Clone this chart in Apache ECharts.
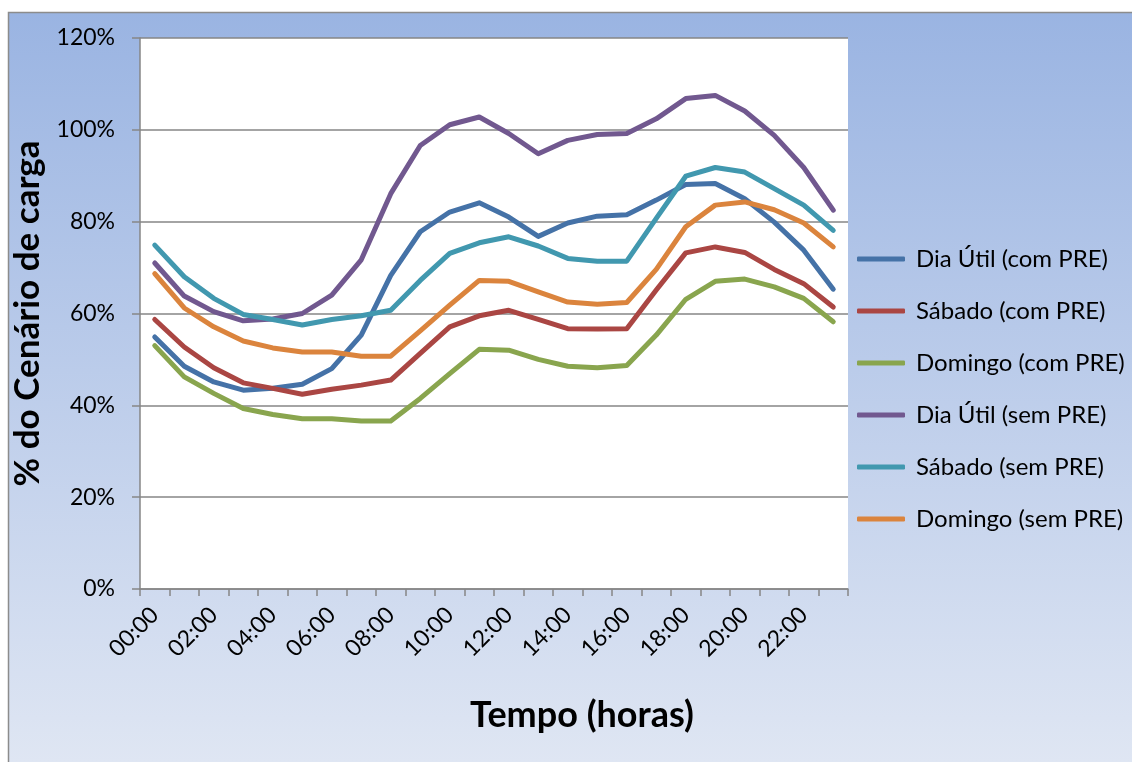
<!DOCTYPE html>
<html>
<head>
<meta charset="utf-8">
<script src="https://cdn.jsdelivr.net/npm/echarts@6/dist/echarts.min.js"></script>
<style>
html,body{margin:0;padding:0;background:#fff;}
#c{width:1132px;height:762px;}
</style>
</head>
<body>
<div id="c"></div>
<script>
var hours = ['00:00','01:00','02:00','03:00','04:00','05:00','06:00','07:00','08:00','09:00','10:00','11:00',
             '12:00','13:00','14:00','15:00','16:00','17:00','18:00','19:00','20:00','21:00','22:00','23:00'];
var seriesNames = ['Dia Útil (com PRE)','Sábado (com PRE)','Domingo (com PRE)','Dia Útil (sem PRE)','Sábado (sem PRE)','Domingo (sem PRE)'];
var diaUtilCom = [54.9,48.5,45.1,43.3,43.7,44.6,48.0,55.3,68.3,77.8,82.1,84.1,81.0,76.8,79.7,81.2,81.5,84.7,88.1,88.3,85.0,79.9,73.8,65.3];
var sabadoCom  = [58.7,52.7,48.2,44.9,43.7,42.4,43.5,44.4,45.5,51.3,57.1,59.5,60.7,58.7,56.7,56.6,56.7,65.1,73.2,74.5,73.3,69.6,66.5,61.4];
var domingoCom = [53.0,46.2,42.6,39.3,38.0,37.1,37.1,36.6,36.6,41.5,46.9,52.2,52.0,50.0,48.5,48.2,48.7,55.3,63.1,67.0,67.5,65.8,63.3,58.2];
var diaUtilSem = [71.0,63.8,60.4,58.4,58.8,60.0,64.0,71.7,86.1,96.6,101.1,102.8,99.2,94.8,97.7,99.0,99.2,102.4,106.8,107.5,104.1,98.8,91.8,82.5];
var sabadoSem  = [74.9,68.0,63.3,59.8,58.7,57.5,58.7,59.5,60.7,67.2,73.1,75.4,76.7,74.7,72.0,71.4,71.4,80.7,89.9,91.8,90.8,87.2,83.6,78.1];
var domingoSem = [68.7,61.2,57.1,54.0,52.5,51.6,51.6,50.7,50.7,56.2,61.8,67.2,67.0,64.7,62.5,62.0,62.4,69.6,78.9,83.6,84.3,82.6,79.7,74.5];
var yTicks = [0,20,40,60,80,100,120];
var colors = ['#4572A7','#AA4643','#89A54E','#71588F','#4198AF','#DB843D'];
var allData = [diaUtilCom, sabadoCom, domingoCom, diaUtilSem, sabadoSem, domingoSem];

var chart = echarts.init(document.getElementById('c'), null, {renderer:'canvas'});
var font = 'Lato, "Noto Sans", sans-serif';
var series = seriesNames.map(function(n,i){
  return {
    name:n, type:'line', data:allData[i], symbol:'none', showSymbol:false,
    lineStyle:{color:colors[i], width:5, cap:'round', join:'round'},
    itemStyle:{color:colors[i]}, animation:false
  };
});
chart.setOption({
  animation:false,
  color:colors,
  graphic:[{
    type:'rect', z:-10, silent:true,
    shape:{x:8.5,y:12.5,width:1200,height:800},
    style:{
      fill:new echarts.graphic.LinearGradient(0,12,0,762,[{offset:0,color:'#9AB4E2'},{offset:1,color:'#DFE6F3'}],true),
      stroke:'#8C8C8C', lineWidth:1.5
    }
  }],
  grid:{left:140, top:38, right:284, bottom:173, show:true, backgroundColor:'#ffffff', borderWidth:0},
  legend:{
    orient:'vertical', left:857, top:247, padding:0, itemWidth:48, itemHeight:5, itemGap:28, icon:'roundRect',
    textStyle:{fontFamily:font, fontSize:24, color:'#000', lineHeight:24, padding:[0,0,0,6]},
    data:seriesNames.map(function(n,i){return {name:n, itemStyle:{color:colors[i]}};})
  },
  xAxis:{
    type:'category', data:hours, boundaryGap:true,
    name:'Tempo (horas)', nameLocation:'middle', nameGap:108,
    nameTextStyle:{fontFamily:font, fontSize:36, fontWeight:'bold', color:'#000', padding:[0,0,0,176]},
    axisLine:{show:true, lineStyle:{color:'#868686', width:1.5}},
    axisTick:{show:true, interval:0, alignWithLabel:false, length:7, inside:false, lineStyle:{color:'#868686', width:1.5}},
    axisLabel:{interval:1, rotate:45, margin:22, fontFamily:font, fontSize:23, color:'#000'},
    splitLine:{show:false}
  },
  yAxis:{
    type:'value', min:0, max:120, interval:20,
    name:'% do Cenário de carga', nameLocation:'middle', nameGap:83, nameRotate:90,
    nameTextStyle:{fontFamily:font, fontSize:35, fontWeight:'bold', color:'#000'},
    axisLine:{show:true, lineStyle:{color:'#868686', width:1.5}},
    axisTick:{show:true, length:8, lineStyle:{color:'#868686', width:1.5}},
    axisLabel:{margin:25, fontFamily:font, fontSize:23, color:'#000', formatter:function(v){return v+'%';}},
    splitLine:{show:true, lineStyle:{color:'#868686', width:1.5}}
  },
  series:series
});
</script>
</body>
</html>
